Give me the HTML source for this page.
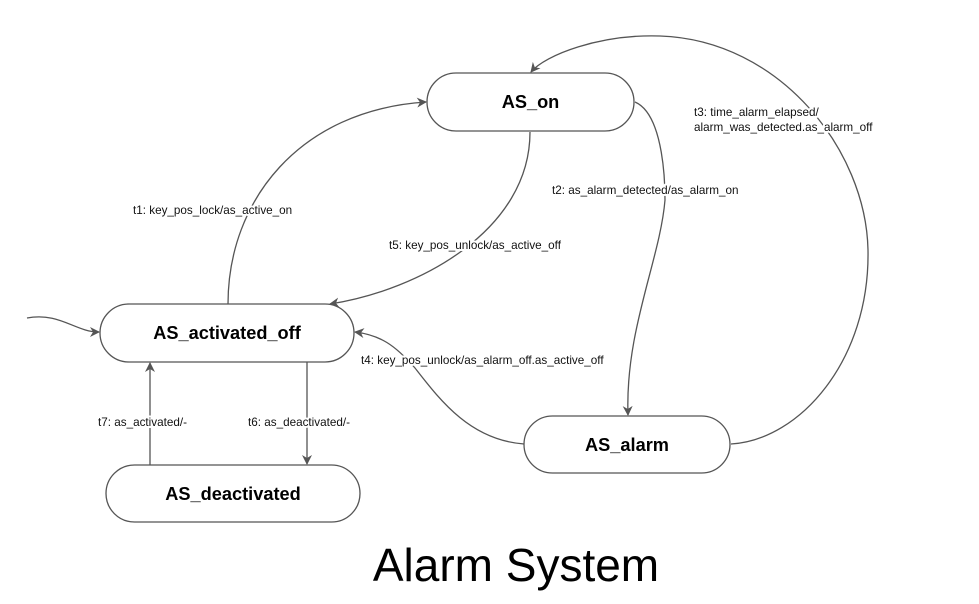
<!DOCTYPE html>
<html><head><style>
html,body{margin:0;padding:0;background:#fff;}
svg{display:block;}
.box{fill:#fff;stroke:#555;stroke-width:1.3;}
.e{fill:none;stroke:#555;stroke-width:1.3;}
.n{font-family:"Liberation Sans",sans-serif;font-weight:bold;font-size:18.2px;text-anchor:middle;fill:#000;}
.l{font-family:"Liberation Sans",sans-serif;font-size:11.7px;fill:#111;stroke:#fff;stroke-width:4px;paint-order:stroke;stroke-linejoin:round;}
</style></head><body>
<svg width="979" height="604" viewBox="0 0 979 604" xmlns="http://www.w3.org/2000/svg">
<defs><marker id="a" viewBox="0 0 10 10" refX="9" refY="5" markerWidth="10" markerHeight="10" markerUnits="userSpaceOnUse" orient="auto">
<path d="M0,0 L10,5 L0,10 L3,5 Z" fill="#555"/></marker></defs>
<path class="e" d="M27,318 C60,312 75,332 99,332" marker-end="url(#a)"/>
<path class="e" d="M228,304 C228,200 300,110 426,102" marker-end="url(#a)"/>
<path class="e" d="M530,132 C530,230 420,290 330,304" marker-end="url(#a)"/>
<path class="e" d="M635,102 C665,115 665,190 665,200 C660,260 625,330 628,415" marker-end="url(#a)"/>
<path class="e" d="M731,444 C800,440 870,360 868,250 C866,150 780,40 660,36 C600,34 545,55 531,72" marker-end="url(#a)"/>
<path class="e" d="M524,444 C470,440 440,400 415,368 C395,345 380,335 355,332" marker-end="url(#a)"/>
<path class="e" d="M307,362 L307,464" marker-end="url(#a)"/>
<path class="e" d="M150,465 L150,363" marker-end="url(#a)"/>
<rect class="box" x="427" y="73" width="207" height="58" rx="29"/>
<text class="n" x="530.5" y="108">AS_on</text>
<rect class="box" x="100" y="304" width="254" height="58" rx="29"/>
<text class="n" x="227" y="339">AS_activated_off</text>
<rect class="box" x="106" y="465" width="254" height="57" rx="28.5"/>
<text class="n" x="233" y="500">AS_deactivated</text>
<rect class="box" x="524" y="416" width="206" height="57" rx="28.5"/>
<text class="n" x="627" y="451">AS_alarm</text>
<text class="l" x="133" y="214">t1: key_pos_lock/as_active_on</text>
<text class="l" x="389" y="249">t5: key_pos_unlock/as_active_off</text>
<text class="l" x="552" y="194">t2: as_alarm_detected/as_alarm_on</text>
<text class="l" x="694" y="116">t3: time_alarm_elapsed/</text>
<text class="l" x="694" y="131">alarm_was_detected.as_alarm_off</text>
<text class="l" x="361" y="364">t4: key_pos_unlock/as_alarm_off.as_active_off</text>
<text class="l" x="98" y="426">t7: as_activated/-</text>
<text class="l" x="248" y="426">t6: as_deactivated/-</text>
<text x="516" y="581" font-family="Liberation Sans, sans-serif" font-size="46" text-anchor="middle" fill="#000">Alarm System</text>
</svg>
</body></html>
